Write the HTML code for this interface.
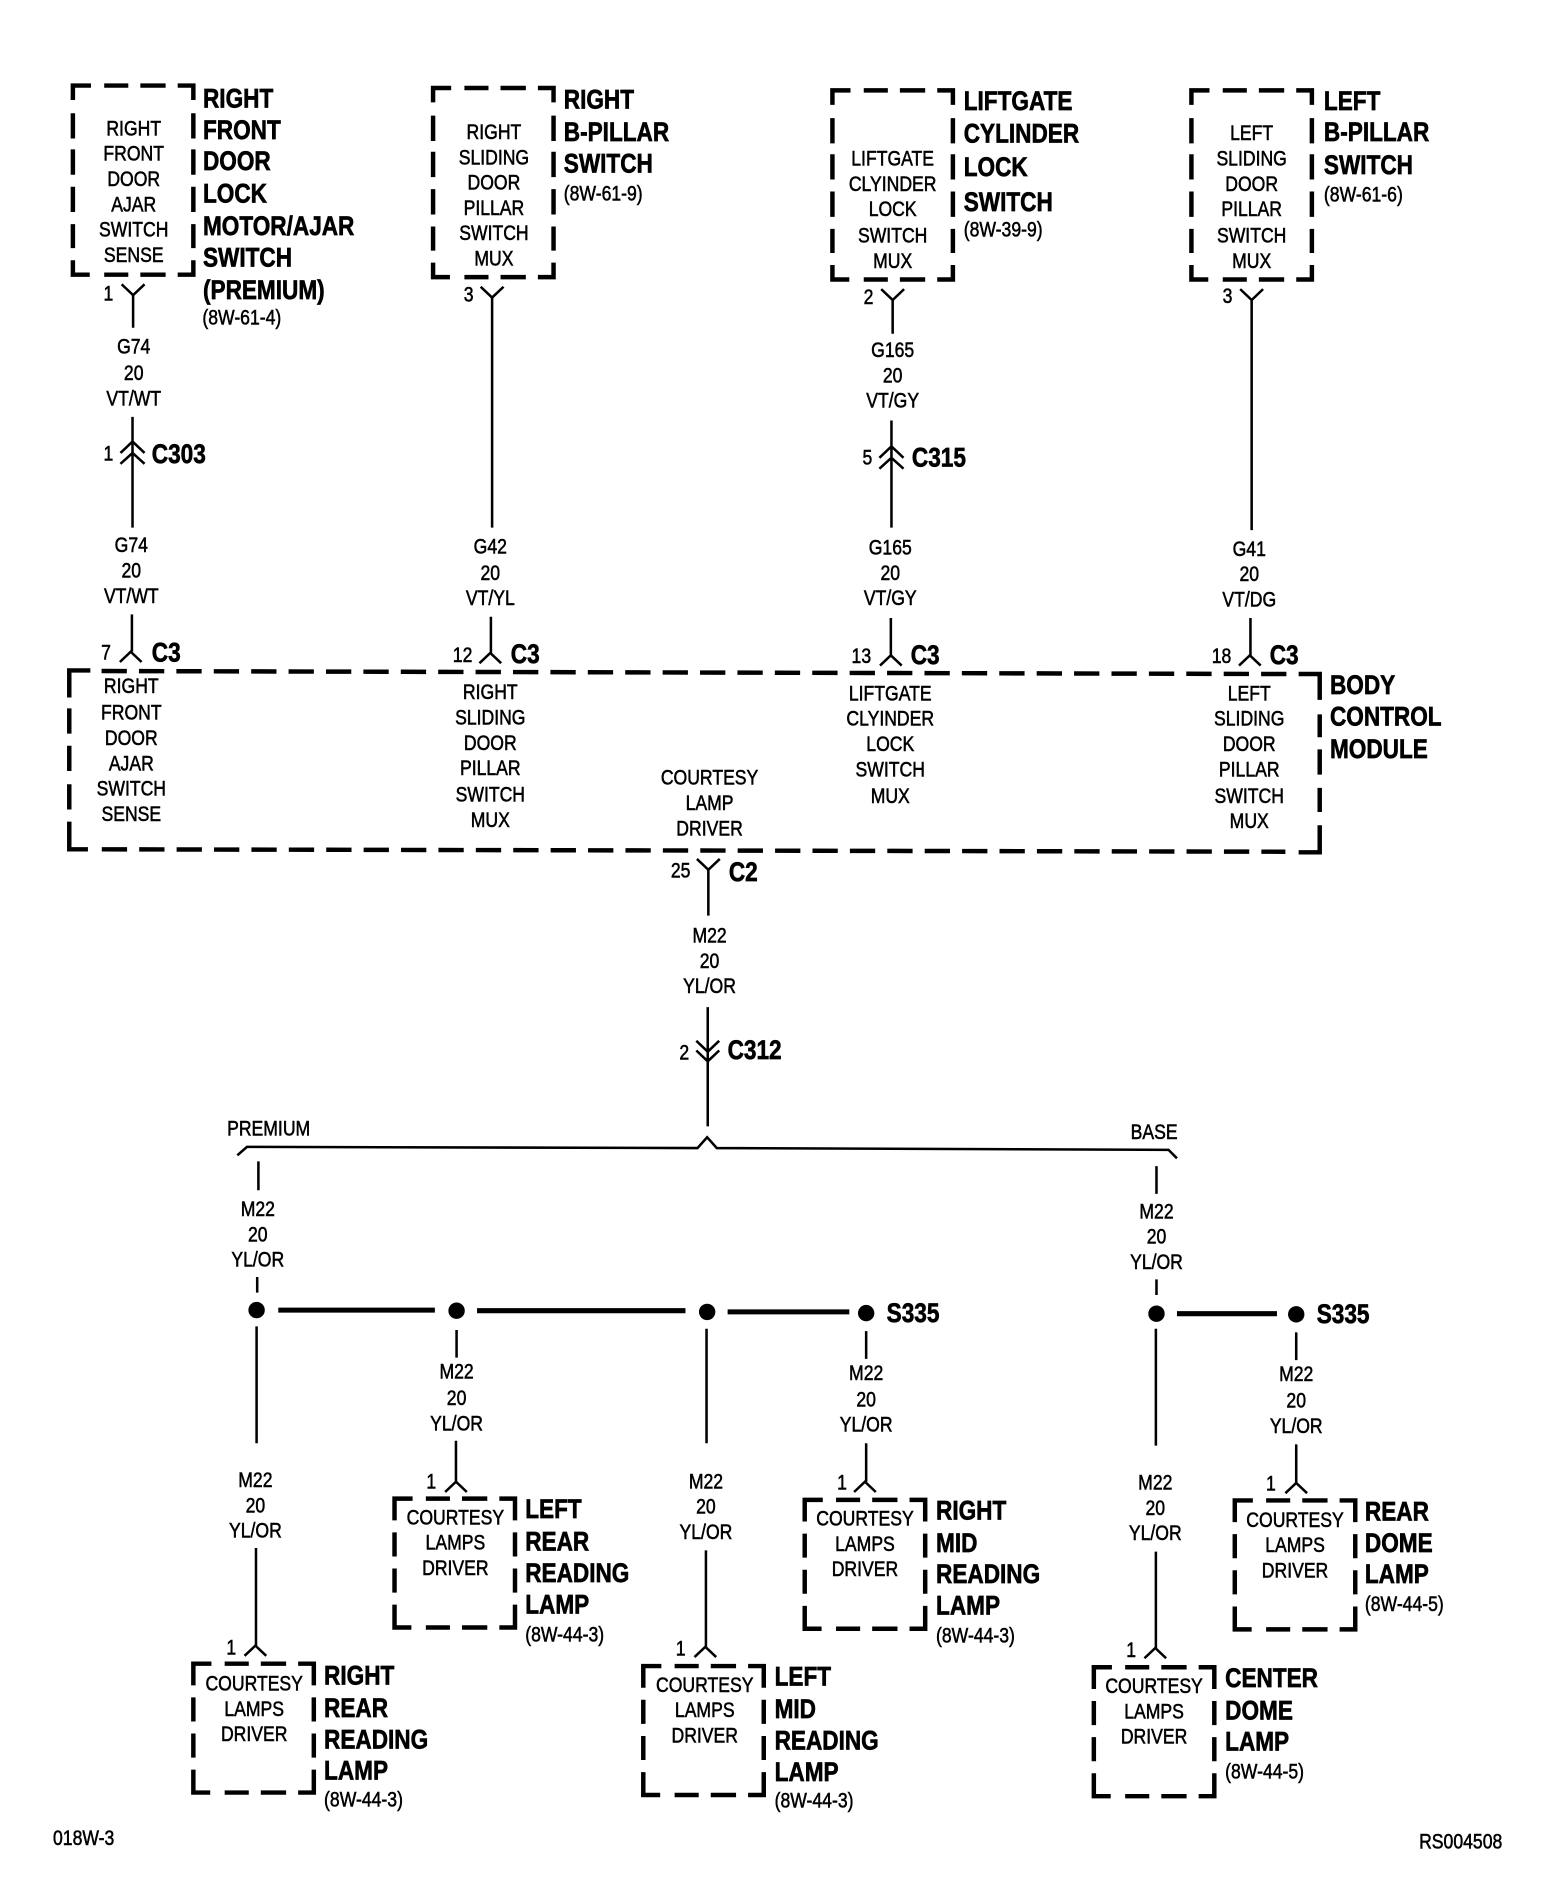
<!DOCTYPE html>
<html><head><meta charset="utf-8"><style>
html,body{margin:0;padding:0;background:#fff}
svg{display:block}
text{font-family:"Liberation Sans",sans-serif;fill:#000;dominant-baseline:central}
.r text,text.r{font-size:17.4px;text-anchor:middle;stroke:#000;stroke-width:.45px}
.s text,text.s{font-size:17.4px;text-anchor:start;stroke:#000;stroke-width:.45px}
.b text{font-size:22.6px;font-weight:bold;text-anchor:start;stroke:#000;stroke-width:.55px}
.w{fill:none;stroke:#000;stroke-width:2.1}
.d{fill:none;stroke:#000;stroke-width:3.7}
.t{fill:none;stroke:#000;stroke-width:4.2}
</style></head><body>
<svg width="1568" height="1888" viewBox="0 0 1301.6 1567.2" xmlns="http://www.w3.org/2000/svg">
<rect width="1302" height="1568" fill="#fff"/>
<defs>
<path id="big" class="d" d="M0 12V0H15M26 0h20M56 0h21M87 0h13V12M0 23v21M0 53v21M0 84v21M0 115v20M0 145v12h14M26 157h20M56 157h21M87 157h13V145M100 23v21M100 53v21M100 84v21M100 115v20"/>
<path id="sm" class="d" d="M0 18V0H15M26 0h20M56 0h21M87 0h13V18M0 28v20M0 58v20M0 88v19h14M26 107h20M56 107h21M87 107h13V88M100 28v20M100 58v20"/>
<path id="yd" class="w" d="M-9.5 -9L0 0L9.5 -9"/>
<path id="yu" class="w" d="M-9 8.5L0 0L9 8.5"/>
</defs>

<!-- component boxes -->
<use href="#big" x="60.5" y="71"/>
<use href="#big" x="359.5" y="73"/>
<use href="#big" x="691" y="75"/>
<use href="#big" x="989" y="75"/>
<use href="#sm" x="160.5" y="1381"/>
<use href="#sm" x="327.5" y="1244"/>
<use href="#sm" x="534" y="1383"/>
<use href="#sm" x="668" y="1245"/>
<use href="#sm" x="908" y="1384"/>
<use href="#sm" x="1025" y="1245.5"/>

<!-- BCM -->
<path class="d" d="M57.5 579V556.5H75M57.5 588v21M57.5 619v21M57.5 651v21M57.5 682v23H73"/>
<path class="d" stroke-dasharray="21 10.05" d="M84.3 557L1068 559.5"/>
<path class="d" stroke-dasharray="21 10.05" d="M84.5 705L1067 707"/>
<path class="d" d="M1078 559.5H1095.5V581M1095.5 593v19M1095.5 622v21M1095.5 654v20M1095.5 685v22.5H1078"/>

<!-- wires -->
<use href="#yd" x="110.5" y="245"/>
<path class="w" d="M110.5 245V272M110 346V438M100 376L110 366.5L120 376M100 385L110 376L120 385"/>
<path class="w" d="M109.5 510V541"/><use href="#yu" x="108.5" y="541"/>

<use href="#yd" x="408.5" y="247"/>
<path class="w" d="M408.5 247V438M407.5 512V542"/><use href="#yu" x="407" y="542"/>

<use href="#yd" x="741" y="249"/>
<path class="w" d="M741 249V277M740 349V438M730 380L740 370.5L750 380M730 389L740 380L750 389"/>
<path class="w" d="M739.5 513V544"/><use href="#yu" x="739.5" y="544"/>

<use href="#yd" x="1039" y="249"/>
<path class="w" d="M1039 249V440M1038 513V544"/><use href="#yu" x="1037.5" y="544"/>

<use href="#yd" x="588" y="722"/>
<path class="w" d="M588 722V760M587.5 836V935M578 864L587.5 873L597 864M578 872L587.5 881L597 872"/>

<path class="w" stroke-width="2.4" d="M197 959L205 952L579 953L587 944L595 953L970 954.5L977 961.5"/>

<!-- Premium branch -->
<path class="w" d="M214.5 964V988M213.5 1060V1073M213 1101V1198M212.5 1285V1366"/>
<use href="#yu" x="212" y="1366"/>
<circle cx="213" cy="1087.5" r="6.8"/>
<path class="t" d="M231 1087.5H361"/>
<circle cx="379" cy="1088" r="6.8"/>
<path class="t" d="M396 1088H569"/>
<circle cx="587" cy="1089" r="6.8"/>
<path class="t" d="M604 1089H705"/>
<circle cx="719" cy="1090" r="6.8"/>
<path class="w" d="M379 1104V1127M378.5 1196V1230"/><use href="#yu" x="378.5" y="1230"/>
<path class="w" d="M586.5 1103V1198M586 1287V1367"/><use href="#yu" x="585.5" y="1367"/>
<path class="w" d="M719 1105V1128M719 1198V1230"/><use href="#yu" x="718" y="1230"/>

<!-- Base branch -->
<path class="w" d="M960 968V991M960 1062V1075M959.5 1103V1200M959.5 1288V1368"/>
<use href="#yu" x="959" y="1368"/>
<circle cx="960" cy="1090.5" r="6.8"/>
<path class="t" d="M977 1090.5H1060"/>
<circle cx="1076" cy="1091" r="6.8"/>
<path class="w" d="M1076 1106V1129M1076 1199V1231"/><use href="#yu" x="1076" y="1231"/>

<!-- regular centred label groups -->
<g class="r" transform="translate(111,0) scale(.84,1)"><text y="107">RIGHT</text><text y="128">FRONT</text><text y="149">DOOR</text><text y="170">AJAR</text><text y="191">SWITCH</text><text y="212">SENSE</text><text y="288">G74</text><text y="310">20</text><text y="331">VT/WT</text></g>
<g class="r" transform="translate(410,0) scale(.84,1)"><text y="110">RIGHT</text><text y="131">SLIDING</text><text y="152">DOOR</text><text y="173">PILLAR</text><text y="194">SWITCH</text><text y="215">MUX</text></g>
<g class="r" transform="translate(741,0) scale(.84,1)"><text y="132">LIFTGATE</text><text y="153">CLYINDER</text><text y="174">LOCK</text><text y="196">SWITCH</text><text y="217">MUX</text><text y="291">G165</text><text y="312">20</text><text y="333">VT/GY</text></g>
<g class="r" transform="translate(1039,0) scale(.84,1)"><text y="111">LEFT</text><text y="132">SLIDING</text><text y="153">DOOR</text><text y="174">PILLAR</text><text y="196">SWITCH</text><text y="217">MUX</text></g>

<g class="r" transform="translate(109,0) scale(.84,1)"><text y="453">G74</text><text y="474">20</text><text y="495">VT/WT</text><text y="570">RIGHT</text><text y="592">FRONT</text><text y="613">DOOR</text><text y="634">AJAR</text><text y="655">SWITCH</text><text y="676">SENSE</text></g>
<g class="r" transform="translate(407,0) scale(.84,1)"><text y="454">G42</text><text y="476">20</text><text y="497">VT/YL</text><text y="575">RIGHT</text><text y="596">SLIDING</text><text y="617">DOOR</text><text y="638">PILLAR</text><text y="660">SWITCH</text><text y="681">MUX</text></g>
<g class="r" transform="translate(739,0) scale(.84,1)"><text y="455">G165</text><text y="476">20</text><text y="497">VT/GY</text><text y="576">LIFTGATE</text><text y="597">CLYINDER</text><text y="618">LOCK</text><text y="639">SWITCH</text><text y="661">MUX</text></g>
<g class="r" transform="translate(1037,0) scale(.84,1)"><text y="456">G41</text><text y="477">20</text><text y="498">VT/DG</text><text y="576">LEFT</text><text y="597">SLIDING</text><text y="618">DOOR</text><text y="639">PILLAR</text><text y="661">SWITCH</text><text y="682">MUX</text></g>
<g class="r" transform="translate(589,0) scale(.84,1)"><text y="646">COURTESY</text><text y="667">LAMP</text><text y="688">DRIVER</text><text y="777">M22</text><text y="798">20</text><text y="819">YL/OR</text></g>

<g class="r" transform="translate(214,0) scale(.84,1)"><text y="1004">M22</text><text y="1025">20</text><text y="1046">YL/OR</text></g>
<g class="r" transform="translate(212,0) scale(.84,1)"><text y="1229">M22</text><text y="1250">20</text><text y="1271">YL/OR</text></g>
<g class="r" transform="translate(211,0) scale(.84,1)"><text y="1398">COURTESY</text><text y="1419">LAMPS</text><text y="1440">DRIVER</text></g>
<g class="r" transform="translate(379,0) scale(.84,1)"><text y="1139">M22</text><text y="1161">20</text><text y="1182">YL/OR</text></g>
<g class="r" transform="translate(378,0) scale(.84,1)"><text y="1260">COURTESY</text><text y="1281">LAMPS</text><text y="1302">DRIVER</text></g>
<g class="r" transform="translate(586,0) scale(.84,1)"><text y="1230">M22</text><text y="1251">20</text><text y="1272">YL/OR</text></g>
<g class="r" transform="translate(585,0) scale(.84,1)"><text y="1399">COURTESY</text><text y="1420">LAMPS</text><text y="1441">DRIVER</text></g>
<g class="r" transform="translate(719,0) scale(.84,1)"><text y="1140">M22</text><text y="1162">20</text><text y="1183">YL/OR</text></g>
<g class="r" transform="translate(718,0) scale(.84,1)"><text y="1261">COURTESY</text><text y="1282">LAMPS</text><text y="1303">DRIVER</text></g>
<g class="r" transform="translate(960,0) scale(.84,1)"><text y="1006">M22</text><text y="1027">20</text><text y="1048">YL/OR</text></g>
<g class="r" transform="translate(959,0) scale(.84,1)"><text y="1231">M22</text><text y="1252">20</text><text y="1273">YL/OR</text></g>
<g class="r" transform="translate(958,0) scale(.84,1)"><text y="1400">COURTESY</text><text y="1421">LAMPS</text><text y="1442">DRIVER</text></g>
<g class="r" transform="translate(1076,0) scale(.84,1)"><text y="1141">M22</text><text y="1163">20</text><text y="1184">YL/OR</text></g>
<g class="r" transform="translate(1075,0) scale(.84,1)"><text y="1262">COURTESY</text><text y="1283">LAMPS</text><text y="1304">DRIVER</text></g>

<!-- pin numbers and options -->
<g class="r" transform="translate(90,0) scale(.84,1)"><text y="244">1</text><text y="377">1</text></g>
<text class="r" transform="translate(88,542) scale(.84,1)">7</text>
<text class="r" transform="translate(389,245) scale(.84,1)">3</text>
<text class="r" transform="translate(384,544) scale(.84,1)">12</text>
<text class="r" transform="translate(721,247) scale(.84,1)">2</text>
<text class="r" transform="translate(720,380) scale(.84,1)">5</text>
<text class="r" transform="translate(715,545) scale(.84,1)">13</text>
<text class="r" transform="translate(1019,246) scale(.84,1)">3</text>
<text class="r" transform="translate(1014,545) scale(.84,1)">18</text>
<text class="r" transform="translate(565,723) scale(.84,1)">25</text>
<text class="r" transform="translate(568,874) scale(.84,1)">2</text>
<text class="r" transform="translate(192,1368) scale(.84,1)">1</text>
<text class="r" transform="translate(358,1230) scale(.84,1)">1</text>
<text class="r" transform="translate(565,1369) scale(.84,1)">1</text>
<text class="r" transform="translate(699,1231) scale(.84,1)">1</text>
<text class="r" transform="translate(939,1370) scale(.84,1)">1</text>
<text class="r" transform="translate(1055,1232) scale(.84,1)">1</text>
<text class="r" transform="translate(223,937) scale(.84,1)">PREMIUM</text>
<text class="r" transform="translate(958,940) scale(.84,1)">BASE</text>
<text class="s" transform="translate(44,1526) scale(.84,1)">018W-3</text>
<text class="s" transform="translate(1178,1529) scale(.84,1)">RS004508</text>

<!-- references -->
<g class="s">
<text transform="translate(168,264) scale(.84,1)">(8W-61-4)</text>
<text transform="translate(468,161) scale(.84,1)">(8W-61-9)</text>
<text transform="translate(800,191) scale(.84,1)">(8W-39-9)</text>
<text transform="translate(1099,162) scale(.84,1)">(8W-61-6)</text>
<text transform="translate(269,1494) scale(.84,1)">(8W-44-3)</text>
<text transform="translate(436,1357) scale(.84,1)">(8W-44-3)</text>
<text transform="translate(643,1495) scale(.84,1)">(8W-44-3)</text>
<text transform="translate(777,1358) scale(.84,1)">(8W-44-3)</text>
<text transform="translate(1017,1471) scale(.84,1)">(8W-44-5)</text>
<text transform="translate(1133,1332) scale(.84,1)">(8W-44-5)</text>
</g>

<!-- bold titles -->
<g class="b" transform="translate(168.5,0) scale(.83,1)"><text y="82">RIGHT</text><text y="108">FRONT</text><text y="134">DOOR</text><text y="161">LOCK</text><text y="188">MOTOR/AJAR</text><text y="214">SWITCH</text><text y="241">(PREMIUM)</text></g>
<g class="b" transform="translate(468,0) scale(.83,1)"><text y="83">RIGHT</text><text y="110">B-PILLAR</text><text y="136">SWITCH</text></g>
<g class="b" transform="translate(800,0) scale(.83,1)"><text y="84">LIFTGATE</text><text y="111">CYLINDER</text><text y="139">LOCK</text><text y="168">SWITCH</text></g>
<g class="b" transform="translate(1099,0) scale(.83,1)"><text y="84">LEFT</text><text y="110">B-PILLAR</text><text y="137">SWITCH</text></g>
<g class="b" transform="translate(1104,0) scale(.83,1)"><text y="569">BODY</text><text y="595">CONTROL</text><text y="622">MODULE</text></g>
<g class="b" transform="translate(269,0) scale(.83,1)"><text y="1391">RIGHT</text><text y="1418">REAR</text><text y="1444">READING</text><text y="1470">LAMP</text></g>
<g class="b" transform="translate(436,0) scale(.83,1)"><text y="1253">LEFT</text><text y="1280">REAR</text><text y="1306">READING</text><text y="1332">LAMP</text></g>
<g class="b" transform="translate(643,0) scale(.83,1)"><text y="1392">LEFT</text><text y="1419">MID</text><text y="1445">READING</text><text y="1471">LAMP</text></g>
<g class="b" transform="translate(777,0) scale(.83,1)"><text y="1254">RIGHT</text><text y="1281">MID</text><text y="1307">READING</text><text y="1333">LAMP</text></g>
<g class="b" transform="translate(1017,0) scale(.83,1)"><text y="1393">CENTER</text><text y="1420">DOME</text><text y="1446">LAMP</text></g>
<g class="b" transform="translate(1133,0) scale(.83,1)"><text y="1255">REAR</text><text y="1281">DOME</text><text y="1307">LAMP</text></g>
<g class="b">
<text transform="translate(126,377) scale(.83,1)">C303</text>
<text transform="translate(757,380) scale(.83,1)">C315</text>
<text transform="translate(604,872) scale(.83,1)">C312</text>
<text transform="translate(605,724) scale(.83,1)">C2</text>
<text transform="translate(126,542) scale(.83,1)">C3</text>
<text transform="translate(424,543) scale(.83,1)">C3</text>
<text transform="translate(756,544) scale(.83,1)">C3</text>
<text transform="translate(1054,544) scale(.83,1)">C3</text>
<text transform="translate(736,1090) scale(.83,1)">S335</text>
<text transform="translate(1093,1091) scale(.83,1)">S335</text>
</g>
</svg>
</body></html>
